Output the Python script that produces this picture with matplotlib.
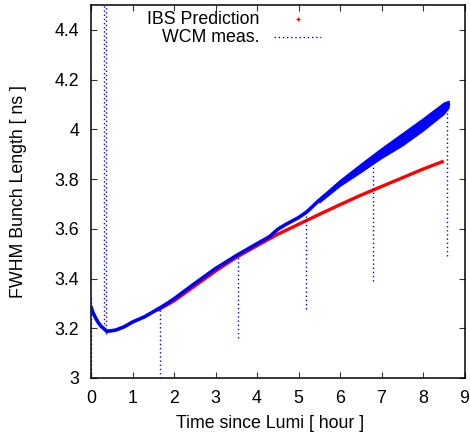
import matplotlib
matplotlib.use("Agg")
import matplotlib.pyplot as plt
from matplotlib.lines import Line2D
from matplotlib.ticker import FuncFormatter
import numpy as np

# ---- data ----
wcm_time = [0.0, 0.05, 0.1, 0.15, 0.2, 0.25, 0.3, 0.38, 0.5, 0.6, 0.8, 1.0, 1.3,
            1.6, 1.8, 2.0, 2.2, 2.5, 3.0, 3.5, 4.0, 4.3, 4.5, 4.7, 5.0, 5.2,
            5.5, 6.0, 6.5, 7.0, 7.5, 8.0, 8.5, 8.6]
wcm_length = [3.285, 3.262, 3.245, 3.23, 3.217, 3.207, 3.200, 3.188, 3.19, 3.193,
              3.206, 3.225, 3.247, 3.276, 3.296, 3.318, 3.343, 3.38, 3.44,
              3.492, 3.54, 3.568, 3.598, 3.618, 3.645, 3.668, 3.715, 3.785,
              3.845, 3.905, 3.96, 4.02, 4.085, 4.10]

# noisy band of the measurement at late times
band_time = [5.5, 6.0, 6.5, 7.0, 7.5, 8.0, 8.5, 8.62]
band_low = [3.706, 3.773, 3.828, 3.885, 3.935, 3.995, 4.062, 4.088]
band_high = [3.722, 3.797, 3.862, 3.925, 3.985, 4.045, 4.108, 4.115]

# vertical dropouts of the WCM measurement
drop_time = [0.0, 1.67, 3.54, 5.18, 6.80, 8.57]
drop_top = [3.33, 3.28, 3.49, 3.665, 3.85, 4.09]
drop_bottom = [3.0, 3.0, 3.16, 3.276, 3.391, 3.491]

# spike near the start (goes off the top of the plot)
spike_time = [0.32, 0.37]
spike_bottom = [3.200, 3.175]
spike_top = [4.6, 4.6]

ibs_time = [1.6, 2.0, 2.5, 3.0, 3.5, 4.0, 4.5, 5.0, 5.5, 6.0, 6.5, 7.0, 7.5,
            8.0, 8.5]
ibs_length = [3.272, 3.31, 3.37, 3.43, 3.485, 3.532, 3.578, 3.618, 3.658,
              3.697, 3.735, 3.77, 3.805, 3.84, 3.872]

x_ticks = [0, 1, 2, 3, 4, 5, 6, 7, 8, 9]
y_ticks = [3.0, 3.2, 3.4, 3.6, 3.8, 4.0, 4.2, 4.4]

# ---- figure ----
plt.rcParams['font.family'] = ['Liberation Sans', 'DejaVu Sans']
FS = 12.8
W, H = 470, 438
fig = plt.figure(figsize=(W / 100, H / 100), dpi=100)
ax = fig.add_axes([91 / W, 1 - 378 / H, 373.5 / W, 373 / H])

BLUE = '#0000ff'
RED = '#ff0000'
dot = (0, (1, 2))

# IBS prediction
ax.plot(ibs_time, ibs_length, color=RED, lw=2.4, solid_capstyle='butt', zorder=3)

# WCM measurement
ax.plot(wcm_time, wcm_length, color=BLUE, lw=2.6, zorder=4)
ax.fill_between(band_time, band_low, band_high, color=BLUE, lw=0.8,
                edgecolor=BLUE, zorder=4)
ax.vlines(drop_time, drop_bottom, drop_top, colors=BLUE, lw=1.0,
          linestyles=[dot], zorder=4)
ax.vlines(spike_time, spike_bottom, spike_top, colors=BLUE, lw=1.0,
          linestyles=[dot], zorder=4)

ax.set_xlim(0, 9)
ax.set_ylim(3.0, 4.5)
ax.set_xticks(x_ticks)
ax.set_yticks(y_ticks)
ax.yaxis.set_major_formatter(FuncFormatter(lambda v, p: '%g' % round(v, 3)))
ax.xaxis.set_major_formatter(FuncFormatter(lambda v, p: '%g' % v))
ax.tick_params(direction='in', length=4.5, width=0.8, top=True, right=True,
               labelsize=FS, pad=8.5, color='#333333')
for s in ax.spines.values():
    s.set_linewidth(1.1)

ax.set_xlabel('Time since Lumi [ hour ]', fontsize=FS)
ax.set_ylabel('FWHM Bunch Length [ ns ]', fontsize=FS, va='center')
ax.xaxis.set_label_coords((270 - 91) / 373.5, (378 - 423) / 373)
ax.xaxis.label.set_va('center')
ax.yaxis.set_label_coords((19 - 91) / 373.5, 0.5)

# legend (gnuplot style key)
fig.text(259 / W, 1 - 19 / H, 'IBS Prediction', ha='right', va='center', fontsize=FS)
fig.text(259 / W, 1 - 37 / H, 'WCM meas.', ha='right', va='center', fontsize=FS)
fig.add_artist(Line2D([298 / W], [1 - 19 / H], marker='+', color=RED, ms=3,
                      mew=1, transform=fig.transFigure))
fig.add_artist(Line2D([274 / W, 321 / W], [1 - 37 / H, 1 - 37 / H], color=BLUE,
                      lw=1.0, ls=dot, transform=fig.transFigure))

fig.savefig('out.png', dpi=100)
